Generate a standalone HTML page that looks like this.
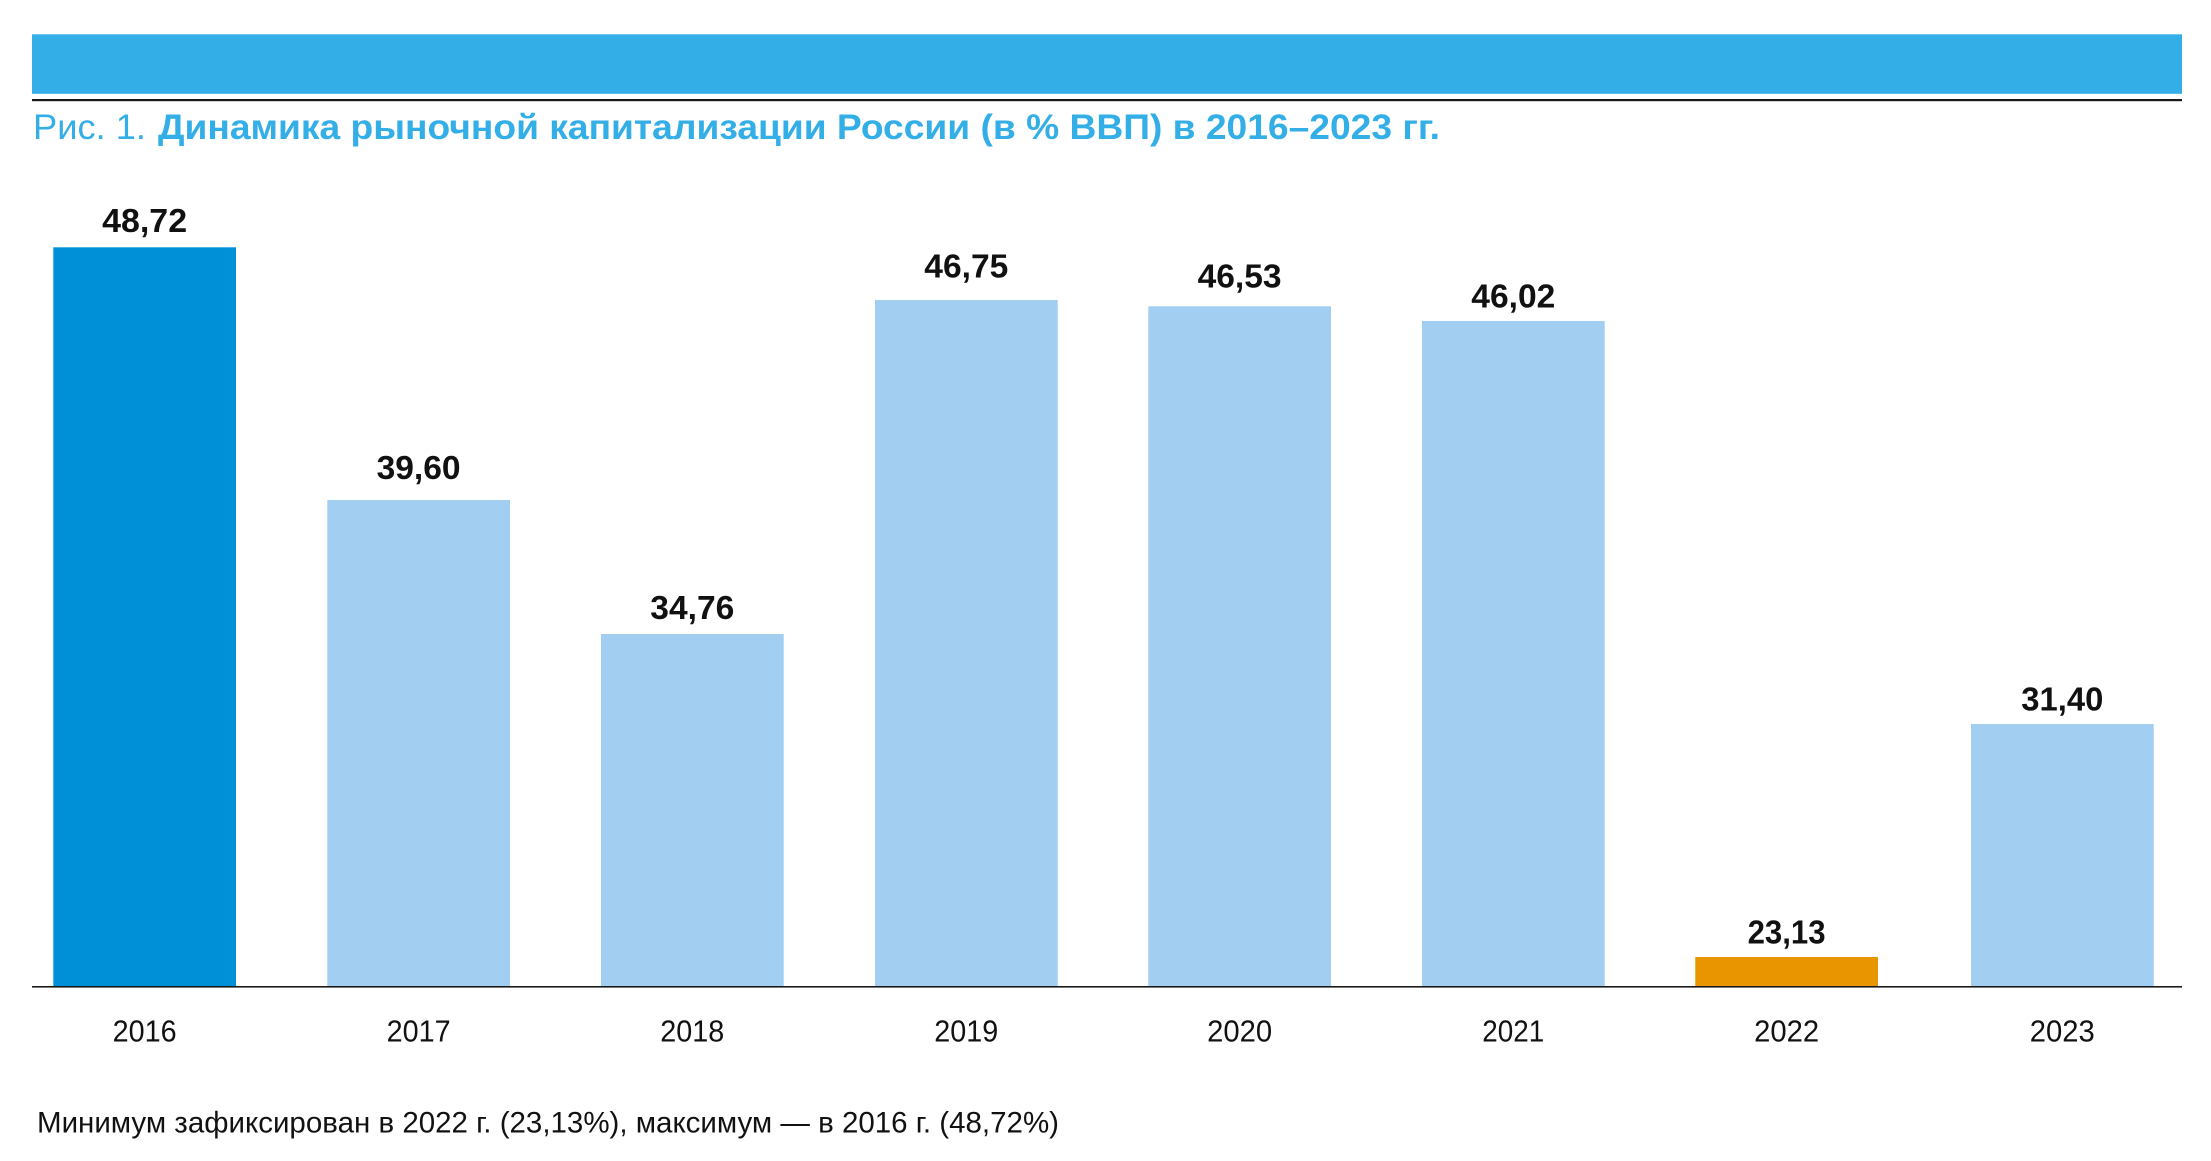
<!DOCTYPE html>
<html lang="ru">
<head>
<meta charset="utf-8">
<style>
  html, body { margin: 0; padding: 0; background: #ffffff; }
  svg { display: block; }
</style>
</head>
<body>
<svg width="2211" height="1161" viewBox="0 0 2211 1161" xmlns="http://www.w3.org/2000/svg">
  <rect x="0" y="0" width="2211" height="1161" fill="#ffffff"/>
  <!-- header band -->
  <rect x="32" y="34.3" width="2150" height="59.5" fill="#33AEE6"/>
  <rect x="32" y="99" width="2150" height="2.2" fill="#1a1a1a"/>
  <!-- title -->
  <text x="33" y="139" font-family="Liberation Sans, sans-serif" font-size="35" fill="#33AEE6" textLength="113" lengthAdjust="spacingAndGlyphs">Рис. 1.</text>
  <text x="158" y="139" font-family="Liberation Sans, sans-serif" font-weight="bold" font-size="35" fill="#33AEE6" textLength="1282" lengthAdjust="spacingAndGlyphs">Динамика рыночной капитализации России (в % ВВП) в 2016–2023 гг.</text>

  <!-- bars -->
  <rect x="53.3" y="247.3" width="182.7" height="739.7" fill="#0090D8"/>
  <rect x="327.3" y="500" width="182.7" height="487" fill="#A2CEF1"/>
  <rect x="601" y="634" width="182.7" height="353" fill="#A2CEF1"/>
  <rect x="875" y="300" width="182.7" height="687" fill="#A2CEF1"/>
  <rect x="1148.3" y="306.3" width="182.7" height="680.7" fill="#A2CEF1"/>
  <rect x="1422" y="321" width="182.7" height="666" fill="#A2CEF1"/>
  <rect x="1695.3" y="957" width="182.7" height="30" fill="#E99500"/>
  <rect x="1971" y="724" width="182.7" height="263" fill="#A2CEF1"/>

  <!-- axis -->
  <rect x="32" y="986" width="2150" height="1.6" fill="#1a1a1a"/>

  <!-- value labels -->
  <g font-family="Liberation Sans, sans-serif" font-weight="bold" font-size="33.5" fill="#111111" text-anchor="middle">
    <text x="144.6" y="232" textLength="85" lengthAdjust="spacingAndGlyphs">48,72</text>
    <text x="418.6" y="479" textLength="84" lengthAdjust="spacingAndGlyphs">39,60</text>
    <text x="692.3" y="619" textLength="84" lengthAdjust="spacingAndGlyphs">34,76</text>
    <text x="966.3" y="277.3" textLength="84" lengthAdjust="spacingAndGlyphs">46,75</text>
    <text x="1239.6" y="287.7" textLength="84" lengthAdjust="spacingAndGlyphs">46,53</text>
    <text x="1513.3" y="307.3" textLength="84" lengthAdjust="spacingAndGlyphs">46,02</text>
    <text x="1786.6" y="943.3" textLength="78" lengthAdjust="spacingAndGlyphs">23,13</text>
    <text x="2062.3" y="710.7" textLength="82" lengthAdjust="spacingAndGlyphs">31,40</text>
  </g>

  <!-- year labels -->
  <g font-family="Liberation Sans, sans-serif" font-size="31" fill="#111111" text-anchor="middle">
    <text x="144.6" y="1041.7" textLength="64" lengthAdjust="spacingAndGlyphs">2016</text>
    <text x="418.6" y="1041.7" textLength="64" lengthAdjust="spacingAndGlyphs">2017</text>
    <text x="692.3" y="1041.7" textLength="64" lengthAdjust="spacingAndGlyphs">2018</text>
    <text x="966.3" y="1041.7" textLength="64" lengthAdjust="spacingAndGlyphs">2019</text>
    <text x="1239.6" y="1041.7" textLength="65" lengthAdjust="spacingAndGlyphs">2020</text>
    <text x="1513.3" y="1041.7" textLength="62" lengthAdjust="spacingAndGlyphs">2021</text>
    <text x="1786.6" y="1041.7" textLength="65" lengthAdjust="spacingAndGlyphs">2022</text>
    <text x="2062.3" y="1041.7" textLength="65" lengthAdjust="spacingAndGlyphs">2023</text>
  </g>

  <!-- caption -->
  <text x="37" y="1132.7" font-family="Liberation Sans, sans-serif" font-size="29.5" fill="#111111" textLength="1022" lengthAdjust="spacingAndGlyphs">Минимум зафиксирован в 2022 г. (23,13%), максимум — в 2016 г. (48,72%)</text>
</svg>
</body>
</html>
